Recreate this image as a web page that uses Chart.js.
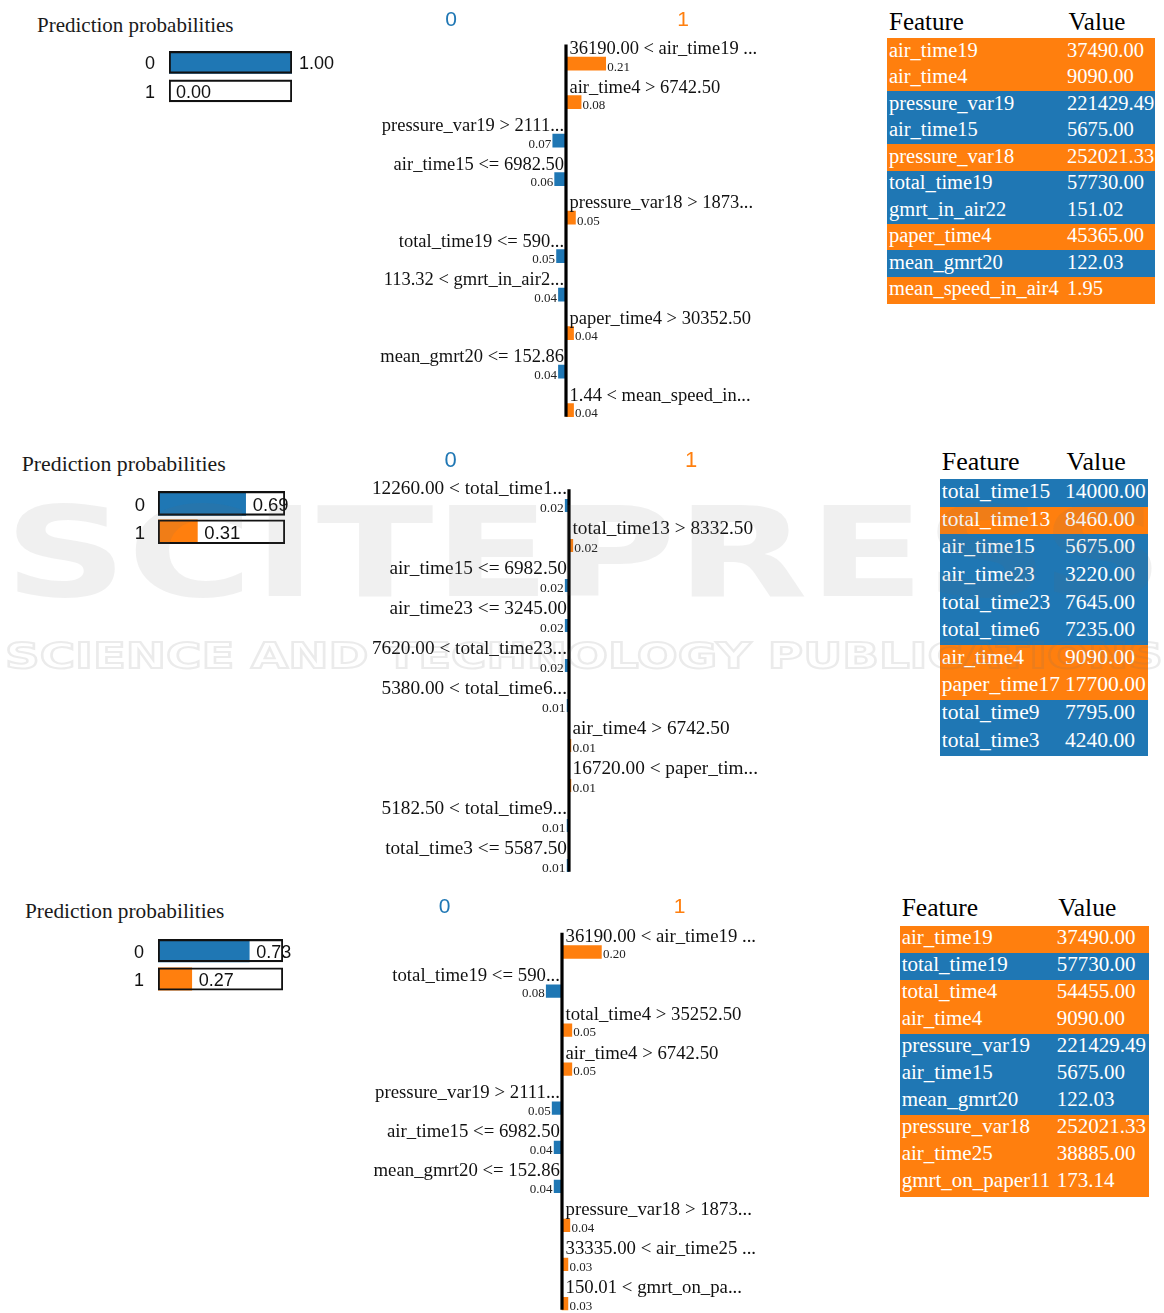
<!DOCTYPE html>
<html>
<head>
<meta charset="utf-8">
<script src="https://cdn.jsdelivr.net/npm/chart.js@4.4.1/dist/chart.umd.min.js"></script>
<style>
  html, body { margin: 0; padding: 0; background: #fff; overflow: hidden; }
  #page { position: relative; width: 1164px; height: 1313px; overflow: hidden; background: #fff; }
  #page canvas { position: absolute; }
  .txt { position: absolute; white-space: nowrap; line-height: 1; }
  .serif { font-family: "Liberation Serif", "Times New Roman", serif; }
  .tbl { position: absolute; overflow: hidden; }
  .row { position: absolute; left: 0; right: 0; }
  #mark { pointer-events: none; z-index: 10; }
</style>
</head>
<body>
<div id="page"></div>
<script>
// ---- colours of the two classes ----
const BLUE = '#1f77b4';
const ORANGE = '#ff7f0e';
const classNames = ['0', '1'];

// ---- explanation 1 ----
const probs1 = [1.00, 0.00];
const rules1 = ['36190.00 < air_time19 ...', 'air_time4 > 6742.50', 'pressure_var19 > 2111...',
  'air_time15 <= 6982.50', 'pressure_var18 > 1873...', 'total_time19 <= 590...',
  '113.32 < gmrt_in_air2...', 'paper_time4 > 30352.50', 'mean_gmrt20 <= 152.86', '1.44 < mean_speed_in...'];
const weights1 = [0.21, 0.08, -0.07, -0.06, 0.05, -0.05, -0.04, 0.04, -0.04, 0.04];
const features1 = ['air_time19', 'air_time4', 'pressure_var19', 'air_time15', 'pressure_var18',
  'total_time19', 'gmrt_in_air22', 'paper_time4', 'mean_gmrt20', 'mean_speed_in_air4'];
const values1 = ['37490.00', '9090.00', '221429.49', '5675.00', '252021.33',
  '57730.00', '151.02', '45365.00', '122.03', '1.95'];

// ---- explanation 2 ----
const probs2 = [0.69, 0.31];
const rules2 = ['12260.00 < total_time1...', 'total_time13 > 8332.50', 'air_time15 <= 6982.50',
  'air_time23 <= 3245.00', '7620.00 < total_time23...', '5380.00 < total_time6...',
  'air_time4 > 6742.50', '16720.00 < paper_tim...', '5182.50 < total_time9...', 'total_time3 <= 5587.50'];
const weights2 = [-0.02, 0.02, -0.02, -0.02, -0.02, -0.01, 0.01, 0.01, -0.01, -0.01];
const features2 = ['total_time15', 'total_time13', 'air_time15', 'air_time23', 'total_time23',
  'total_time6', 'air_time4', 'paper_time17', 'total_time9', 'total_time3'];
const values2 = ['14000.00', '8460.00', '5675.00', '3220.00', '7645.00',
  '7235.00', '9090.00', '17700.00', '7795.00', '4240.00'];

// ---- explanation 3 ----
const probs3 = [0.73, 0.27];
const rules3 = ['36190.00 < air_time19 ...', 'total_time19 <= 590...', 'total_time4 > 35252.50',
  'air_time4 > 6742.50', 'pressure_var19 > 2111...', 'air_time15 <= 6982.50',
  'mean_gmrt20 <= 152.86', 'pressure_var18 > 1873...', '33335.00 < air_time25 ...', '150.01 < gmrt_on_pa...'];
const weights3 = [0.20, -0.08, 0.05, 0.05, -0.05, -0.04, -0.04, 0.04, 0.03, 0.03];
const features3 = ['air_time19', 'total_time19', 'total_time4', 'air_time4', 'pressure_var19',
  'air_time15', 'mean_gmrt20', 'pressure_var18', 'air_time25', 'gmrt_on_paper11'];
const values3 = ['37490.00', '57730.00', '54455.00', '9090.00', '221429.49',
  '5675.00', '122.03', '252021.33', '38885.00', '173.14'];

// ---- placement of each explanation block on the page ----
const layouts = [
  {
    top: 0,
    title: { x: 37, base: 32.3, size: 21 },
    prob: { left: 169, right: 291.5, c0: 62.8, pitch: 29.4, thick: 22, font: 18, gap: 14 },
    main: { axis: 565.7, ppu: 189, c0: 63.7, pitch: 38.5, thick: 13, font: 18.5, small: 13,
            rise: 9.7, drop: 7, lead: 19.2, headDx: [-115, 117], headBase: 26, headSize: 21 },
    table: { left: 887, right: 1155, headBase: 29.5, headSize: 25, valueX: 1067,
             rowsTop: 38.3, rowH: 26.5, size: 20.5, textBase: 18.4, pad: 2 }
  },
  {
    top: 440,
    title: { x: 21.7, base: 472, size: 21.8 },
    prob: { left: 158.3, right: 285.5, c0: 504.5, pitch: 30.5, thick: 24, font: 18.5, gap: 13 },
    main: { axis: 569, ppu: 190, c0: 505.5, pitch: 40, thick: 12.5, font: 19.3, small: 13.5,
            rise: 11.3, drop: 6, lead: 16.2, headDx: [-118.5, 122], headBase: 466.7, headSize: 22 },
    table: { left: 940, right: 1148.3, headBase: 470.7, headSize: 26, valueX: 1065,
             rowsTop: 479, rowH: 27.6, size: 21.5, textBase: 20.3, pad: 1.7 }
  },
  {
    top: 888,
    title: { x: 25, base: 919, size: 21.3 },
    prob: { left: 158.3, right: 283.5, c0: 951.2, pitch: 29.5, thick: 22.5, font: 18, gap: 14 },
    main: { axis: 561.7, ppu: 197, c0: 952, pitch: 39.06, thick: 12.6, font: 18.8, small: 13,
            rise: 10.3, drop: 6.3, lead: 19.3, headDx: [-117.5, 117.5], headBase: 912.7, headSize: 21 },
    table: { left: 900, right: 1149.3, headBase: 916.7, headSize: 25.5, valueX: 1056.7,
             rowsTop: 926, rowH: 27, size: 21, textBase: 19, pad: 1.7 }
  }
];

const explanations = [
  { probs: probs1, rules: rules1, weights: weights1, features: features1, values: values1 },
  { probs: probs2, rules: rules2, weights: weights2, features: features2, values: values2 },
  { probs: probs3, rules: rules3, weights: weights3, features: features3, values: values3 }
];

const page = document.getElementById('page');
const SERIF = '"Liberation Serif", "Times New Roman", serif';
const SANS = '"Liberation Sans", Arial, sans-serif';
// baseline position inside a line-height:1 box, as a fraction of the font size
const SERIF_ASC = 0.8375;

function makeCanvas(left, top, width, height) {
  const c = document.createElement('canvas');
  c.width = width; c.height = height;
  c.style.left = left + 'px'; c.style.top = top + 'px';
  c.style.width = width + 'px'; c.style.height = height + 'px';
  page.appendChild(c);
  return c;
}

function addText(parent, text, left, baseline, size, color, cls) {
  const d = document.createElement('div');
  d.className = 'txt ' + (cls || 'serif');
  d.textContent = text;
  d.style.left = left + 'px';
  d.style.top = (baseline - SERIF_ASC * size) + 'px';
  d.style.fontSize = size + 'px';
  d.style.color = color;
  parent.appendChild(d);
  return d;
}

// ---------- prediction probability bars ----------
function drawProbabilities(ex, L) {
  const P = L.prob;
  const axisW = 40, extraRight = 70;
  const width = Math.round(P.right - P.left) + axisW + extraRight;
  const height = 130;
  const canvasLeft = P.left - axisW;
  const canvas = makeCanvas(canvasLeft, L.top, width, height);
  const areaTop = P.c0 - P.pitch / 2 - L.top;
  const areaBottom = areaTop + P.pitch * 2;

  const valueLabels = {
    id: 'probValues',
    afterDatasetsDraw(chart) {
      const ctx = chart.ctx;
      const meta = chart.getDatasetMeta(1);
      ctx.save();
      ctx.font = `${P.font}px ${SANS}`;
      ctx.fillStyle = '#111';
      ctx.textAlign = 'left';
      ctx.textBaseline = 'middle';
      meta.data.forEach((bar, i) => {
        ctx.fillText(ex.probs[i].toFixed(2), bar.x + 7, bar.y + 2);
      });
      ctx.restore();
    }
  };

  new Chart(canvas, {
    type: 'bar',
    data: {
      labels: classNames,
      datasets: [
        { // full-probability frame
          data: classNames.map(() => 1),
          backgroundColor: 'rgba(0,0,0,0)',
          borderColor: '#111',
          borderWidth: 1.5,
          borderSkipped: false,
          grouped: false,
          barThickness: P.thick
        },
        { // predicted probability
          data: ex.probs,
          backgroundColor: [BLUE, ORANGE],
          borderWidth: 0,
          grouped: false,
          barThickness: P.thick
        }
      ]
    },
    options: {
      indexAxis: 'y',
      responsive: false,
      animation: false,
      devicePixelRatio: 1,
      layout: { padding: { left: 0, right: extraRight, top: areaTop, bottom: height - areaBottom } },
      plugins: { legend: { display: false }, tooltip: { enabled: false }, title: { display: false } },
      scales: {
        x: { display: false, min: 0, max: 1 },
        y: {
          type: 'category',
          grid: { display: false, drawTicks: false },
          border: { display: false },
          ticks: { font: { family: SANS, size: P.font }, color: '#111', padding: P.gap, labelOffset: 2 },
          afterFit(axis) { axis.width = axisW; }
        }
      }
    },
    plugins: [valueLabels]
  });
}

// ---------- feature contribution bars ----------
function drawContributions(ex, L) {
  const M = L.main;
  const half = 235;
  const width = half * 2;
  const height = 450;
  const canvas = makeCanvas(M.axis - half, L.top, width, height);
  const areaTop = M.c0 - M.pitch / 2 - L.top;
  const areaBottom = areaTop + M.pitch * ex.weights.length;
  const span = half / M.ppu;

  const decorations = {
    id: 'contribDecor',
    afterDatasetsDraw(chart) {
      const ctx = chart.ctx;
      const xs = chart.scales.x;
      const x0 = xs.getPixelForValue(0);
      const bars = chart.getDatasetMeta(0).data;
      ctx.save();
      // zero line
      ctx.strokeStyle = '#000';
      ctx.lineWidth = 3.2;
      ctx.beginPath();
      ctx.moveTo(x0, bars[0].y - M.lead);
      ctx.lineTo(x0, bars[bars.length - 1].y + M.thick / 2);
      ctx.stroke();
      // rule text above each bar, weight next to it
      bars.forEach((bar, i) => {
        const w = ex.weights[i];
        const pos = w >= 0;
        ctx.fillStyle = '#111';
        ctx.textBaseline = 'alphabetic';
        ctx.font = `${M.font}px ${SERIF}`;
        ctx.textAlign = pos ? 'left' : 'right';
        ctx.fillText(ex.rules[i], pos ? x0 + 3.5 : x0 - 2, bar.y - M.rise);
        ctx.font = `${M.small}px ${SERIF}`;
        ctx.fillStyle = '#222';
        ctx.fillText(Math.abs(w).toFixed(2), pos ? bar.x + 1.5 : bar.x - 1.5, bar.y + M.drop);
      });
      // class headers
      ctx.font = `${M.headSize}px ${SANS}`;
      ctx.textAlign = 'center';
      ctx.textBaseline = 'alphabetic';
      ctx.fillStyle = BLUE;
      ctx.fillText(classNames[0], x0 + M.headDx[0], M.headBase - L.top);
      ctx.fillStyle = ORANGE;
      ctx.fillText(classNames[1], x0 + M.headDx[1], M.headBase - L.top);
      ctx.restore();
    }
  };

  new Chart(canvas, {
    type: 'bar',
    data: {
      labels: ex.rules,
      datasets: [{
        data: ex.weights,
        backgroundColor: ex.weights.map(w => (w < 0 ? BLUE : ORANGE)),
        borderWidth: 0,
        barThickness: M.thick
      }]
    },
    options: {
      indexAxis: 'y',
      responsive: false,
      animation: false,
      devicePixelRatio: 1,
      layout: { padding: { left: 0, right: 0, top: areaTop, bottom: height - areaBottom } },
      plugins: { legend: { display: false }, tooltip: { enabled: false } },
      scales: {
        x: { display: false, min: -span, max: span },
        y: { display: false, type: 'category' }
      }
    },
    plugins: [decorations]
  });
}

// ---------- feature / value table ----------
function drawTable(ex, L) {
  const T = L.table;
  const box = document.createElement('div');
  box.className = 'tbl';
  box.style.left = T.left + 'px';
  box.style.top = L.top + 'px';
  box.style.width = (T.right - T.left) + 'px';
  box.style.height = '340px';
  page.appendChild(box);
  const rel = y => y - L.top;
  addText(box, 'Feature', T.pad, rel(T.headBase), T.headSize, '#000');
  addText(box, 'Value', T.valueX - T.left + 1.5, rel(T.headBase), T.headSize, '#000');
  ex.features.forEach((f, i) => {
    const row = document.createElement('div');
    row.className = 'row';
    const y = rel(T.rowsTop) + i * T.rowH;
    row.style.top = y + 'px';
    row.style.height = (T.rowH + 0.6) + 'px';
    row.style.background = ex.weights[i] < 0 ? BLUE : ORANGE;
    box.appendChild(row);
    addText(box, f, T.pad, y + T.textBase, T.size, '#fff');
    addText(box, ex.values[i], T.valueX - T.left, y + T.textBase, T.size, '#fff');
  });
}

explanations.forEach((ex, k) => {
  const L = layouts[k];
  addText(page, 'Prediction probabilities', L.title.x, L.title.base, L.title.size, '#1a1a1a');
  drawProbabilities(ex, L);
  drawContributions(ex, L);
  drawTable(ex, L);
});

// ---------- publisher watermark ----------
(function watermark() {
  const c = makeCanvas(0, 0, 1164, 1313);
  c.id = 'mark';
  const ctx = c.getContext('2d');
  ctx.fillStyle = 'rgba(110,110,110,0.10)';
  ctx.font = 'bold 124px "DejaVu Sans"';
  const main = 'SCITEPRESS';
  const w1 = ctx.measureText(main).width;
  ctx.save();
  ctx.translate(4, 596);
  ctx.scale(1160 / w1, 1);
  ctx.fillText(main, 0, 0);
  ctx.restore();
  const sub = 'SCIENCE AND TECHNOLOGY PUBLICATIONS';
  ctx.font = 'bold 36px "DejaVu Sans"';
  const w2 = ctx.measureText(sub).width;
  ctx.save();
  ctx.translate(5, 668);
  ctx.scale(1158 / w2, 1);
  ctx.strokeStyle = 'rgba(110,110,110,0.14)';
  ctx.lineWidth = 2;
  ctx.strokeText(sub, 0, 0);
  ctx.restore();
})();
</script>
</body>
</html>
